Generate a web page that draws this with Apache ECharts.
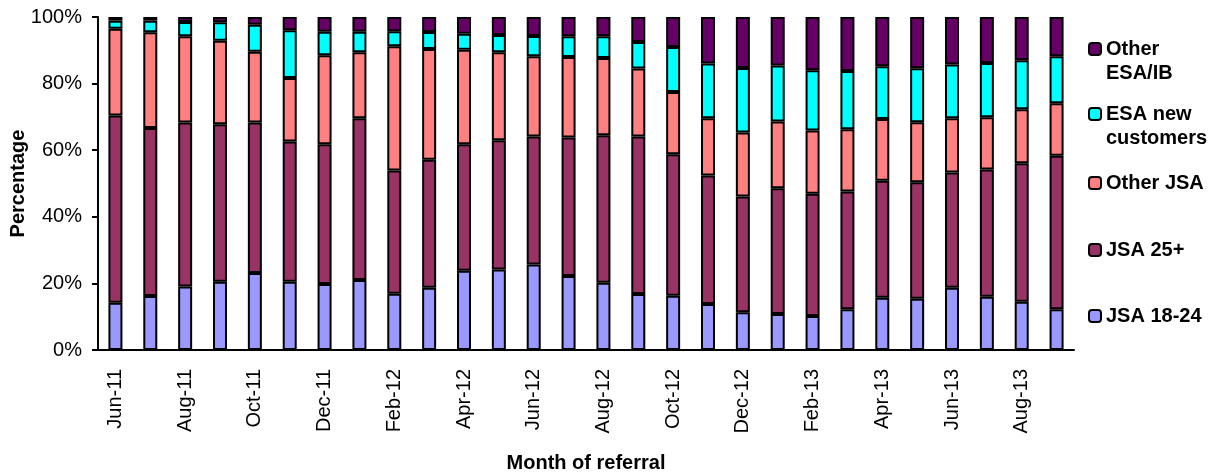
<!DOCTYPE html>
<html>
<head>
<meta charset="utf-8">
<script src="https://cdn.jsdelivr.net/npm/echarts@6/dist/echarts.min.js"></script>
<style>
html,body{margin:0;padding:0;background:#fff;}
#chart{width:1215px;height:476px;}
</style>
</head>
<body>
<div id="chart"></div>
<script>
var months = ['Jun-11','Jul-11','Aug-11','Sep-11','Oct-11','Nov-11','Dec-11','Jan-12','Feb-12','Mar-12','Apr-12','May-12','Jun-12','Jul-12','Aug-12','Sep-12','Oct-12','Nov-12','Dec-12','Jan-13','Feb-13','Mar-13','Apr-13','May-13','Jun-13','Jul-13','Aug-13','Sep-13'];
var jsa1824 = [14.2,16.2,19.1,20.5,23.1,20.5,19.8,21.0,16.9,18.7,23.8,24.2,25.7,22.2,20.2,16.8,16.3,13.8,11.3,10.8,10.2,12.2,15.7,15.4,18.7,16.0,14.5,12.2];
var jsa25 = [56.2,50.5,49.2,47.3,45.2,42.1,42.0,48.6,37.0,38.4,38.0,38.8,38.4,41.6,44.3,47.3,42.5,38.6,34.8,37.8,36.7,35.4,35.1,35.0,34.6,38.2,41.6,46.1];
var otherJsa = [26.1,28.7,25.9,25.1,21.3,19.1,26.7,19.8,37.3,33.3,28.4,26.4,24.1,24.2,23.2,20.4,18.7,17.2,19.2,20.0,19.0,18.7,18.6,18.0,16.3,15.7,16.2,15.8];
var esaNew = [2.4,3.5,4.3,5.5,8.1,14.3,7.1,6.2,4.5,5.1,4.8,5.2,6.1,6.2,6.5,8.0,13.5,16.4,19.4,16.8,18.1,17.5,15.8,16.2,16.1,16.3,14.7,14.1];
var otherEsa = [1.1,1.1,1.5,1.6,2.3,4.0,4.4,4.4,4.3,4.5,5.0,5.4,5.7,5.8,5.8,7.5,9.0,14.0,15.3,14.6,16.0,16.2,14.8,15.4,14.3,13.8,13.0,11.8];
var yTicks = [0,20,40,60,80,100];

var seriesNames = ['JSA 18-24','JSA 25+','Other JSA','ESA new customers','Other ESA/IB'];
var seriesData = [jsa1824, jsa25, otherJsa, esaNew, otherEsa];
var colors = ['#9999FF','#993366','#FF8080','#00FFFF','#660066'];
var legendLabels = {'JSA 18-24':'JSA 18-24','JSA 25+':'JSA 25+','Other JSA':'Other JSA','ESA new customers':' \nESA new\ncustomers','Other ESA/IB':' \nOther\nESA/IB'};

var FONT = 'Liberation Sans, Arial, sans-serif';
var LH = 24;
function legendAt(name, centerY, twoLine) {
  return {
    data: [name],
    orient: 'vertical',
    left: 1088,
    top: twoLine ? centerY - LH * 1.5 : centerY - LH / 2,
    padding: 0,
    itemWidth: 12,
    itemHeight: 12,
    selectedMode: false,
    formatter: function (n) { return legendLabels[n]; },
    textStyle: {
      fontFamily: FONT, fontSize: 20, fontWeight: 'bold', color: '#000',
      lineHeight: LH
    }
  };
}

var chart = echarts.init(document.getElementById('chart'));
chart.setOption({
  animation: false,
  backgroundColor: '#fff',
  grid: { left: 98, right: 141, top: 17, bottom: 126, outerBoundsMode: 'none', containLabel: false },
  legend: [
    legendAt('Other ESA/IB', 49, true),
    legendAt('ESA new customers', 114, true),
    legendAt('Other JSA', 183, false),
    legendAt('JSA 25+', 250, false),
    legendAt('JSA 18-24', 316, false)
  ],
  xAxis: {
    type: 'category',
    data: months,
    name: 'Month of referral',
    nameLocation: 'middle',
    nameGap: 103,
    nameMoveOverlap: false,
    nameTextStyle: { fontFamily: FONT, fontSize: 20, fontWeight: 'bold', color: '#000' },
    axisLine: { lineStyle: { color: '#000', width: 2 } },
    axisTick: { interval: 1, length: 7, lineStyle: { color: '#000', width: 2 } },
    axisLabel: { interval: 1, rotate: 90, margin: 19, fontFamily: FONT, fontSize: 20, color: '#000' },
    splitLine: { show: false }
  },
  yAxis: {
    type: 'value',
    min: yTicks[0],
    max: yTicks[yTicks.length - 1],
    interval: yTicks[1] - yTicks[0],
    name: 'Percentage',
    nameLocation: 'middle',
    nameRotate: 90,
    nameGap: 70,
    nameMoveOverlap: false,
    nameTextStyle: { fontFamily: FONT, fontSize: 20, fontWeight: 'bold', color: '#000' },
    axisLine: { show: true, lineStyle: { color: '#000', width: 2 } },
    axisTick: { show: true, length: 6, lineStyle: { color: '#000', width: 2 } },
    axisLabel: { formatter: '{value}%', margin: 16, fontFamily: FONT, fontSize: 20, color: '#000' },
    splitLine: { show: false }
  },
  series: seriesNames.map(function (n, i) {
    return {
      name: n,
      type: 'bar',
      stack: 'total',
      barWidth: 14,
      data: seriesData[i],
      itemStyle: { color: colors[i], borderColor: '#000', borderWidth: 2 },
      emphasis: { disabled: true }
    };
  })
});
</script>
</body>
</html>
